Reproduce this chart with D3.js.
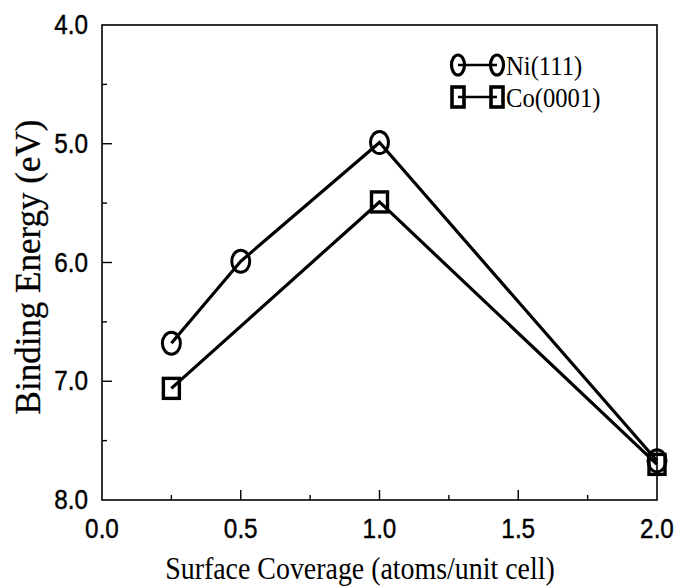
<!DOCTYPE html>
<html>
<head>
    <meta charset="utf-8" />
    <title>Binding Energy vs Surface Coverage</title>
    <script src="https://cdn.jsdelivr.net/npm/d3@7"></script>
    <style>
        body { margin: 0; background: #fff; }
        svg { display: block; }
    </style>
</head>
<body>
    <svg id="chart" width="677" height="587"></svg>
    <script>
        // values
        const niCoverage = [0.25, 0.5, 1.0, 2.0];
        const niEnergy = [6.68, 5.99, 4.99, 7.67];
        const coCoverage = [0.25, 1.0, 2.0];
        const coEnergy = [7.06, 5.49, 7.70];
        const xTicks = [0.0, 0.5, 1.0, 1.5, 2.0];
        const yTicks = [4.0, 5.0, 6.0, 7.0, 8.0];
        const seriesNames = ['Ni(111)', 'Co(0001)'];

        const svg = d3.select('#chart');
        const x = d3.scaleLinear().domain([0, 2]).range([102, 657]);
        const y = d3.scaleLinear().domain([4, 8]).range([25, 500]);

        const serif = '"Liberation Serif", "Times New Roman", serif';
        const sans = '"Liberation Sans", Arial, sans-serif';

        // frame
        svg.append('rect')
            .attr('x', x(0)).attr('y', y(4))
            .attr('width', x(2) - x(0)).attr('height', y(8) - y(4))
            .style('fill', 'none').style('stroke', '#000').style('stroke-width', 1.6);

        // ticks point inward
        const xMinor = d3.range(0.25, 2, 0.5);
        const yMinor = d3.range(4.5, 8, 1);
        const ticks = svg.append('g').style('stroke', '#000').style('stroke-width', 1.4);
        ticks.selectAll(null).data(xTicks.slice(1, -1)).enter().append('line')
            .attr('x1', d => x(d)).attr('x2', d => x(d))
            .attr('y1', y(8)).attr('y2', y(8) - 10);
        ticks.selectAll(null).data(xMinor).enter().append('line')
            .attr('x1', d => x(d)).attr('x2', d => x(d))
            .attr('y1', y(8)).attr('y2', y(8) - 5);
        ticks.selectAll(null).data(yTicks.slice(1, -1)).enter().append('line')
            .attr('x1', x(0)).attr('x2', x(0) + 10)
            .attr('y1', d => y(d)).attr('y2', d => y(d));
        ticks.selectAll(null).data(yMinor).enter().append('line')
            .attr('x1', x(0)).attr('x2', x(0) + 5)
            .attr('y1', d => y(d)).attr('y2', d => y(d));

        // tick labels, slightly narrow like the original
        svg.append('g')
            .style('font-family', sans)
            .style('font-size', '27px')
            .selectAll(null).data(xTicks).enter().append('text')
            .attr('transform', d => `translate(${x(d)},538) scale(0.9,1)`)
            .attr('text-anchor', 'middle')
            .style('stroke', '#000').style('stroke-width', 0.4)
            .text(d => d.toFixed(1));
        svg.append('g')
            .style('font-family', sans)
            .style('font-size', '27px')
            .selectAll(null).data(yTicks).enter().append('text')
            .attr('transform', d => `translate(88,${y(d) + 9}) scale(0.9,1)`)
            .attr('text-anchor', 'end')
            .style('stroke', '#000').style('stroke-width', 0.4)
            .text(d => d.toFixed(1));

        // axis titles
        svg.append('text')
            .attr('transform', 'translate(360,579) scale(0.9,1)')
            .attr('text-anchor', 'middle')
            .style('font-family', serif)
            .style('font-size', '31px')
            .text('Surface Coverage (atoms/unit cell)');
        svg.append('text')
            .attr('transform', 'translate(40,267) rotate(-90)')
            .attr('text-anchor', 'middle')
            .style('font-family', serif)
            .style('font-size', '35px')
            .style('stroke', '#000').style('stroke-width', 0.3)
            .text('Binding Energy (eV)');

        const line = d3.line().x(d => x(d[0])).y(d => y(d[1]));
        const niData = niCoverage.map((c, i) => [c, niEnergy[i]]);
        const coData = coCoverage.map((c, i) => [c, coEnergy[i]]);

        const g = svg.append('g').style('fill', 'none').style('stroke', '#000');
        g.append('path').datum(niData).attr('d', line).style('stroke-width', 3.2);
        g.append('path').datum(coData).attr('d', line).style('stroke-width', 3.2);

        g.selectAll(null).data(niData).enter().append('ellipse')
            .attr('cx', d => x(d[0])).attr('cy', d => y(d[1]))
            .attr('rx', 9).attr('ry', 11)
            .style('stroke-width', 3);
        g.selectAll(null).data(coData).enter().append('rect')
            .attr('x', d => x(d[0]) - 8).attr('y', d => y(d[1]) - 10)
            .attr('width', 16).attr('height', 20)
            .style('stroke-width', 3.4);

        // legend
        const legend = svg.append('g');
        const rows = [65, 97];
        seriesNames.forEach((name, i) => {
            const row = legend.append('g').attr('transform', `translate(0,${rows[i]})`);
            row.append('line').attr('x1', 458).attr('x2', 497).attr('y1', 0).attr('y2', 0)
                .style('stroke', '#000').style('stroke-width', 2.5);
            [458, 497].forEach(cx => {
                if (i === 0) {
                    row.append('ellipse').attr('cx', cx).attr('cy', 0).attr('rx', 6.5).attr('ry', 10)
                        .style('fill', 'none').style('stroke', '#000').style('stroke-width', 3.2);
                } else {
                    row.append('rect').attr('x', cx - 6).attr('y', -10).attr('width', 12).attr('height', 20)
                        .style('fill', 'none').style('stroke', '#000').style('stroke-width', 3.6);
                }
            });
            row.append('text').attr('transform', 'translate(506,10) scale(0.88,1)')
                .style('font-family', serif)
                .style('font-size', '28px')
                .text(name);
        });
    </script>
</body>
</html>
